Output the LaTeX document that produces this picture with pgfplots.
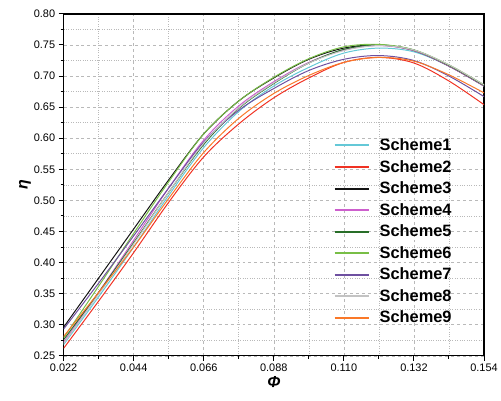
\documentclass[border=0pt]{standalone}
\usepackage{pgfplots}
\pgfplotsset{compat=1.18}
\usepackage{fontspec}
\setmainfont{Liberation Sans}
\definecolor{c1}{RGB}{100,200,215}
\definecolor{c2}{RGB}{240,50,35}
\definecolor{c3}{RGB}{20,20,20}
\definecolor{c4}{RGB}{205,95,205}
\definecolor{c5}{RGB}{40,110,40}
\definecolor{c6}{RGB}{120,190,70}
\definecolor{c7}{RGB}{110,80,160}
\definecolor{c8}{RGB}{195,195,195}
\definecolor{c9}{RGB}{250,120,40}
\definecolor{gridc}{RGB}{185,185,185}
\begin{document}
\begin{tikzpicture}
\begin{axis}[
  scale only axis, width=423pt, height=344pt,
  xmin=0.022, xmax=0.154, ymin=0.25, ymax=0.80,
  xtick={0.022,0.044,0.066,0.088,0.110,0.132,0.154},
  xticklabels={0.022,0.044,0.066,0.088,0.110,0.132,0.154},
  ytick={0.25,0.30,...,0.80},
  yticklabel style={/pgf/number format/.cd,fixed,fixed zerofill,precision=2},
  /pgf/number format/assume math mode=true,
  minor x tick num=1, minor y tick num=1,
  tick align=outside, tick pos=left,
  major tick length=5pt, minor tick length=3pt,
  tick style={black, line width=1pt},
  ticklabel style={font=\fontsize{11}{13}\selectfont},
  axis line style={line width=1.2pt},
  grid=both,
  major grid style={gridc, dashed, line width=0.6pt},
  minor grid style={gridc, dotted, line width=0.6pt},
  xlabel={\fontsize{16}{18}\selectfont\bfseries\itshape Φ},
  ylabel={\fontsize{16}{18}\selectfont\bfseries\itshape η},
  xlabel style={yshift=2pt},
  ylabel style={yshift=-4pt},
  legend cell align=left,
  legend style={draw=none, fill=none, at={(rel axis cs:0.635,0.647)}, anchor=north west,
    font=\fontsize{16.5}{18}\selectfont\bfseries, row sep=4.2pt,
    /tikz/every odd column/.append style={column sep=8pt}},
  legend image post style={xscale=2.0, line width=2pt},
  every axis plot/.append style={line width=1pt, smooth, tension=0.55},
]
\addplot[c1] coordinates {(0.022,0.268)(0.033,0.345)(0.044,0.425)(0.055,0.508)(0.066,0.585)(0.077,0.643)(0.088,0.684)(0.099,0.714)(0.110,0.737)(0.121,0.745)(0.132,0.739)(0.143,0.716)(0.154,0.684)};
\addlegendentry{Scheme1}
\addplot[c2] coordinates {(0.022,0.262)(0.033,0.338)(0.044,0.416)(0.055,0.497)(0.066,0.570)(0.077,0.623)(0.088,0.665)(0.099,0.697)(0.110,0.722)(0.121,0.730)(0.132,0.721)(0.143,0.692)(0.154,0.654)};
\addlegendentry{Scheme2}
\addplot[c3] coordinates {(0.022,0.296)(0.033,0.375)(0.044,0.454)(0.055,0.533)(0.066,0.607)(0.077,0.660)(0.088,0.697)(0.099,0.727)(0.110,0.745)(0.121,0.750)(0.132,0.741)(0.143,0.716)(0.154,0.684)};
\addlegendentry{Scheme3}
\addplot[c4] coordinates {(0.022,0.272)(0.033,0.352)(0.044,0.436)(0.055,0.520)(0.066,0.597)(0.077,0.652)(0.088,0.691)(0.099,0.722)(0.110,0.742)(0.121,0.749)(0.132,0.741)(0.143,0.716)(0.154,0.684)};
\addlegendentry{Scheme4}
\addplot[c5] coordinates {(0.022,0.276)(0.033,0.352)(0.044,0.432)(0.055,0.513)(0.066,0.590)(0.077,0.648)(0.088,0.688)(0.099,0.721)(0.110,0.743)(0.121,0.750)(0.132,0.742)(0.143,0.717)(0.154,0.685)};
\addlegendentry{Scheme5}
\addplot[c6] coordinates {(0.022,0.279)(0.033,0.362)(0.044,0.447)(0.055,0.530)(0.066,0.607)(0.077,0.660)(0.088,0.698)(0.099,0.728)(0.110,0.747)(0.121,0.751)(0.132,0.742)(0.143,0.718)(0.154,0.686)};
\addlegendentry{Scheme6}
\addplot[c7] coordinates {(0.022,0.293)(0.033,0.367)(0.044,0.443)(0.055,0.520)(0.066,0.594)(0.077,0.645)(0.088,0.680)(0.099,0.709)(0.110,0.727)(0.121,0.733)(0.132,0.725)(0.143,0.700)(0.154,0.667)};
\addlegendentry{Scheme7}
\addplot[c8] coordinates {(0.022,0.270)(0.033,0.349)(0.044,0.430)(0.055,0.513)(0.066,0.592)(0.077,0.649)(0.088,0.689)(0.099,0.721)(0.110,0.741)(0.121,0.749)(0.132,0.742)(0.143,0.718)(0.154,0.686)};
\addlegendentry{Scheme8}
\addplot[c9] coordinates {(0.022,0.281)(0.033,0.352)(0.044,0.425)(0.055,0.503)(0.066,0.577)(0.077,0.632)(0.088,0.672)(0.099,0.701)(0.110,0.722)(0.121,0.730)(0.132,0.724)(0.143,0.702)(0.154,0.673)};
\addlegendentry{Scheme9}
\end{axis}
\path[use as bounding box] ([xshift=-64pt,yshift=-45pt]current axis.south west) rectangle ([xshift=14pt,yshift=14pt]current axis.north east);
\end{tikzpicture}
\end{document}
